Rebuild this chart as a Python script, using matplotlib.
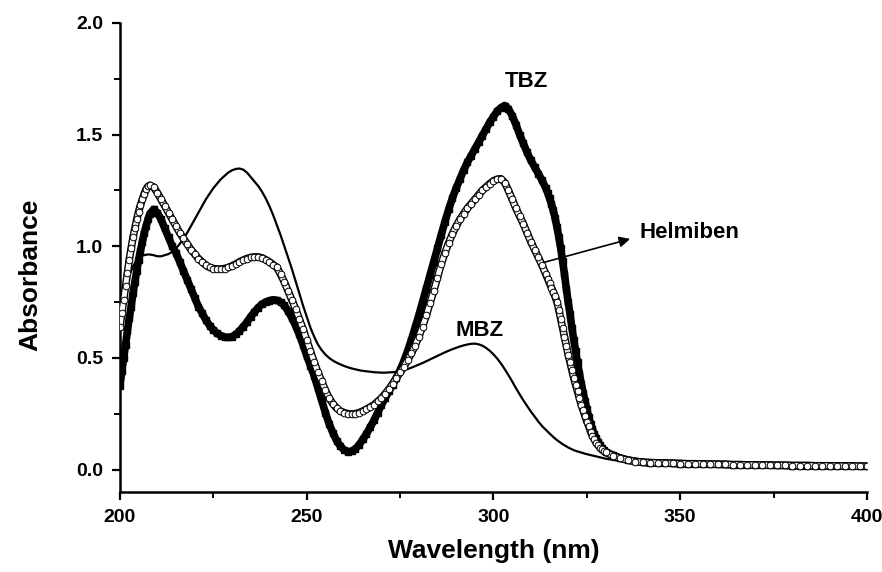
import numpy as np
import matplotlib
matplotlib.use("Agg")
import matplotlib.pyplot as plt
from matplotlib.ticker import MultipleLocator

plt.rcParams['font.family'] = ['Liberation Sans', 'DejaVu Sans']
plt.rcParams['font.weight'] = 'bold'

# wavelength grid of the recorded spectra (nm)
wavelength = np.concatenate([
    np.arange(200, 208.5, 0.5),
    np.arange(209, 315, 1.0),
    np.arange(314.5, 330.5, 0.5),
    np.arange(332, 401, 2.0),
])

tail = [0.031, 0.030, 0.029, 0.028, 0.027, 0.026, 0.026, 0.025, 0.024, 0.024,
        0.023, 0.022, 0.022, 0.021, 0.021, 0.020, 0.020, 0.019, 0.019, 0.018,
        0.018, 0.018, 0.017, 0.017, 0.017, 0.016, 0.016, 0.016, 0.015, 0.015]

tbz = ([0.375, 0.44, 0.50, 0.56, 0.62, 0.68, 0.73, 0.79, 0.84, 0.89,
        0.94, 0.98, 1.02, 1.06, 1.09, 1.12, 1.145] +
       [1.165, 1.15, 1.12, 1.08, 1.04, 1.00, 0.97, 0.93, 0.89, 0.85,
        0.81, 0.77, 0.73, 0.70, 0.67, 0.645, 0.625, 0.61, 0.60, 0.593,
        0.592, 0.595, 0.605, 0.62, 0.64, 0.66, 0.685, 0.705, 0.725, 0.74,
        0.75, 0.757, 0.76, 0.758, 0.75, 0.735, 0.71, 0.68, 0.645, 0.605,
        0.56, 0.51, 0.465, 0.42, 0.365, 0.31, 0.255, 0.205, 0.165, 0.13,
        0.105, 0.088, 0.08, 0.082, 0.092, 0.11, 0.135, 0.16, 0.19, 0.22,
        0.255, 0.29, 0.32, 0.35, 0.38, 0.41, 0.445, 0.485, 0.53, 0.58,
        0.635, 0.69, 0.75, 0.81, 0.87, 0.93, 0.99, 1.05, 1.11, 1.165,
        1.215, 1.26, 1.30, 1.34, 1.375, 1.405, 1.435, 1.465, 1.495, 1.525,
        1.555, 1.58, 1.605, 1.62, 1.63, 1.615, 1.585, 1.545, 1.50, 1.46,
        1.42, 1.385, 1.355, 1.325, 1.295, 1.26] +
       [1.24, 1.215, 1.19, 1.16, 1.125, 1.085, 1.04, 0.99, 0.935, 0.875,
        0.81, 0.75, 0.695, 0.635, 0.58, 0.53, 0.48, 0.43, 0.385, 0.345,
        0.305, 0.27, 0.235, 0.205, 0.18, 0.16, 0.14, 0.125, 0.11, 0.098,
        0.088, 0.08] +
       [0.065, 0.052, 0.043, 0.037, 0.033] + tail)

helmiben = ([0.64, 0.70, 0.76, 0.82, 0.88, 0.94, 0.99, 1.04, 1.08, 1.12,
             1.155, 1.185, 1.21, 1.235, 1.255, 1.268, 1.273] +
            [1.265, 1.24, 1.21, 1.18, 1.15, 1.12, 1.09, 1.06, 1.035, 1.01,
             0.985, 0.965, 0.945, 0.93, 0.915, 0.905, 0.90, 0.898, 0.898, 0.90,
             0.905, 0.912, 0.92, 0.93, 0.938, 0.945, 0.95, 0.952, 0.952, 0.948,
             0.94, 0.93, 0.918, 0.905, 0.875, 0.84, 0.80, 0.76, 0.72, 0.675,
             0.63, 0.58, 0.53, 0.48, 0.435, 0.395, 0.355, 0.32, 0.295, 0.275,
             0.262, 0.255, 0.25, 0.249, 0.25, 0.255, 0.262, 0.27, 0.28, 0.29,
             0.305, 0.32, 0.34, 0.36, 0.385, 0.41, 0.435, 0.46, 0.49, 0.52,
             0.555, 0.595, 0.64, 0.69, 0.745, 0.80, 0.86, 0.92, 0.97, 1.015,
             1.055, 1.09, 1.12, 1.145, 1.17, 1.19, 1.21, 1.23, 1.25, 1.265,
             1.28, 1.293, 1.30, 1.302, 1.285, 1.25, 1.21, 1.17, 1.135, 1.10,
             1.06, 1.02, 0.985, 0.95, 0.915, 0.875] +
            [0.855, 0.835, 0.815, 0.795, 0.775, 0.75, 0.715, 0.675, 0.635, 0.595,
             0.555, 0.515, 0.48, 0.445, 0.41, 0.38, 0.35, 0.32, 0.29, 0.265,
             0.24, 0.215, 0.195, 0.17, 0.15, 0.135, 0.12, 0.108, 0.098, 0.09,
             0.083, 0.077] +
            [0.062, 0.05, 0.042, 0.036, 0.032] + tail)

mbz = ([0.72, 0.76, 0.79, 0.82, 0.85, 0.87, 0.89, 0.91, 0.925, 0.935,
        0.945, 0.952, 0.957, 0.96, 0.962, 0.963, 0.963] +
       [0.96, 0.955, 0.955, 0.96, 0.965, 0.975, 0.99, 1.01, 1.035, 1.06,
        1.09, 1.12, 1.15, 1.18, 1.21, 1.235, 1.26, 1.28, 1.30, 1.315,
        1.33, 1.34, 1.346, 1.348, 1.343, 1.33, 1.31, 1.29, 1.27, 1.245,
        1.215, 1.18, 1.14, 1.095, 1.05, 1.00, 0.95, 0.90, 0.845, 0.79,
        0.735, 0.685, 0.635, 0.595, 0.56, 0.535, 0.515, 0.50, 0.488, 0.479,
        0.471, 0.464, 0.458, 0.453, 0.449, 0.445, 0.442, 0.44, 0.438, 0.436,
        0.435, 0.434, 0.434, 0.435, 0.436, 0.438, 0.441, 0.445, 0.45, 0.456,
        0.463, 0.47, 0.477, 0.485, 0.493, 0.501, 0.509, 0.517, 0.525, 0.532,
        0.539, 0.545, 0.551, 0.556, 0.56, 0.563, 0.564, 0.561, 0.555, 0.545,
        0.532, 0.516, 0.497, 0.475, 0.45, 0.423, 0.395, 0.365, 0.337, 0.31,
        0.285, 0.26, 0.238, 0.215, 0.195, 0.178] +
       [0.17, 0.162, 0.154, 0.146, 0.139, 0.132, 0.126, 0.12, 0.114, 0.109,
        0.104, 0.099, 0.095, 0.091, 0.087, 0.084, 0.081, 0.079, 0.076, 0.074,
        0.071, 0.069, 0.067, 0.065, 0.063, 0.061, 0.059, 0.057, 0.055, 0.053,
        0.051, 0.049] +
       [0.043, 0.039, 0.036, 0.034, 0.032] + tail)

fig = plt.figure(figsize=(8.82, 5.72), dpi=100)
ax = fig.add_axes([0.136, 0.140, 0.847, 0.820])

ax.plot(wavelength, mbz, color='black', lw=1.6, zorder=2)

# TBZ: densely packed filled squares -> thick black band
ax.plot(wavelength, tbz, color='black', lw=5.5, solid_capstyle='butt', zorder=3)
ax.plot(wavelength, tbz, ls='none', marker='s', ms=5, mfc='black', mec='black', zorder=3)

# Helmiben: densely packed open circles -> outlined band
ax.plot(wavelength, helmiben, color='black', lw=5.5, zorder=4)
ax.plot(wavelength, helmiben, color='white', lw=3.5, zorder=4)
ax.plot(wavelength, helmiben, ls='none', marker='o', ms=4.8, mfc='white', mec='black',
        mew=0.7, zorder=5)

ax.text(308.7, 1.737, 'TBZ', fontsize=16, fontweight='bold', ha='center', va='center')
ax.text(296.4, 0.623, 'MBZ', fontsize=16, fontweight='bold', ha='center', va='center')
ax.text(339.2, 1.06, 'Helmiben', fontsize=16, fontweight='bold', ha='left', va='center')
ax.annotate('', xy=(337.3, 1.036), xytext=(312.7, 0.924),
            arrowprops=dict(arrowstyle='-|>', color='black', lw=1.2, mutation_scale=16),
            zorder=6)

ax.set_xlim(200, 400)
ax.set_ylim(-0.1, 2.0)
ax.xaxis.set_major_locator(MultipleLocator(50))
ax.xaxis.set_minor_locator(MultipleLocator(25))
ax.yaxis.set_major_locator(MultipleLocator(0.5))
ax.yaxis.set_minor_locator(MultipleLocator(0.25))
ax.yaxis.set_major_formatter(plt.FormatStrFormatter('%.1f'))

for side in ['top', 'right']:
    ax.spines[side].set_visible(False)
for side in ['left', 'bottom']:
    ax.spines[side].set_linewidth(1.8)

ax.tick_params(which='major', direction='out', length=6, width=1.6, labelsize=14, pad=6)
ax.tick_params(which='minor', direction='out', length=4, width=1.4)

ax.set_xlabel('Wavelength (nm)', fontsize=19, fontweight='bold', labelpad=10)
ax.set_ylabel('Absorbance', fontsize=19, fontweight='bold')
ax.yaxis.set_label_coords(-0.104, 0.463)

fig.savefig('out.png', dpi=100)
